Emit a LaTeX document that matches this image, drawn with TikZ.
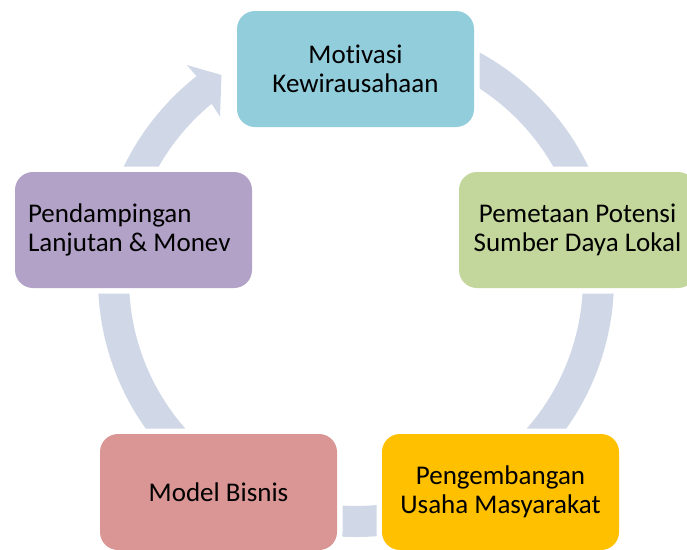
\documentclass[tikz,border=0pt]{standalone}
\usepackage{fontspec}
\setmainfont{Carlito}[Ligatures=NoCommon]
\definecolor{cblue}{HTML}{92CDDC}
\definecolor{cgreen}{HTML}{C3D69B}
\definecolor{cyellow}{HTML}{FFC000}
\definecolor{cpink}{HTML}{D99694}
\definecolor{cpurple}{HTML}{B3A2C7}
\definecolor{cring}{HTML}{D0D8E8}
\begin{document}
\begin{tikzpicture}[x=1pt,y=-1pt,
  box/.style={rounded corners=18pt, minimum width=237pt, minimum height=116pt,
    inner sep=0pt, font=\fontsize{27}{28.5}\selectfont, text=black,
    preaction={draw=white, line width=11pt}},
  label/.style={inner sep=0pt, font=\fontsize{27}{28.5}\selectfont, text=black},
  ringfill/.style={fill=cring}]
\useasboundingbox (0,0) rectangle (687,549);
\clip (0,0) rectangle (687,549);
% circular arrow behind the boxes
\fill[ringfill] (356,279) ++(-90:258)
  arc[start angle=-90, end angle=231.84, radius=258]
  -- (186.7,65) -- (221.5,75) -- (220,116.7) -- (211.6,103.8)
  arc[start angle=230.5, end angle=-90, radius=227] -- cycle;
% boxes
\node[box, fill=cblue, align=center] (mot) at (355.5,69) {Motivasi\\Kewirausahaan};
\node[box, fill=cgreen, align=center] (pem) at (577.5,230) {Pemetaan Potensi\\Sumber Daya Lokal};
\node[box, fill=cyellow, align=center] (peng) at (500.5,492) {Pengembangan\\Usaha Masyarakat};
\node[box, fill=cpink, align=center] (model) at (218.5,492) {Model Bisnis};
\node[box, fill=cpurple] (pend) at (133.5,230) {};
\node[label, align=left, anchor=west] (pendtext) at ([xshift=13pt]pend.west) {Pendampingan\\Lanjutan \& Monev};
\end{tikzpicture}
\end{document}
